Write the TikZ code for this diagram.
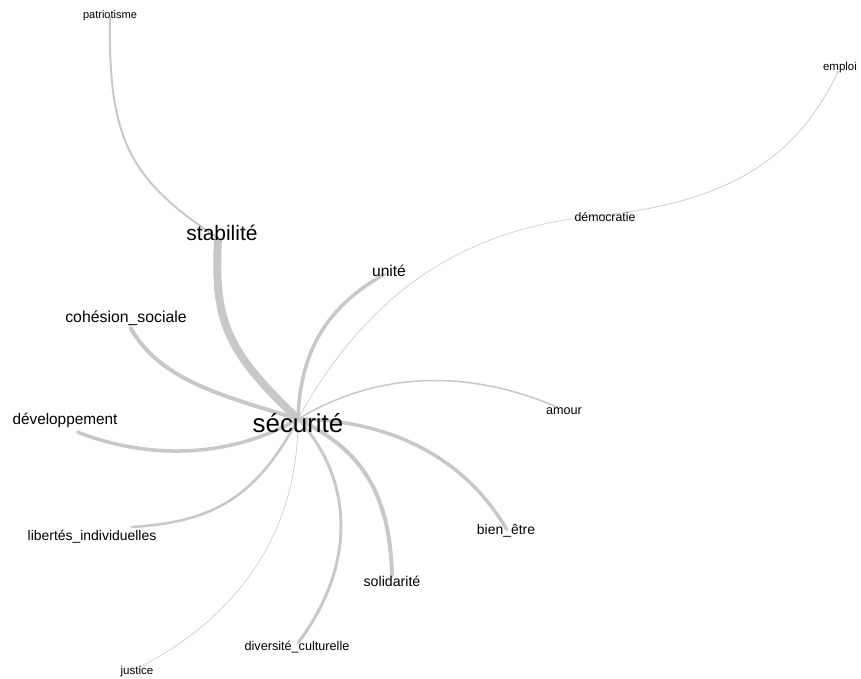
\documentclass[tikz,border=0pt]{standalone}
\usepackage{fontspec}
\setmainfont{Liberation Sans}
\usetikzlibrary{backgrounds}
\definecolor{edgegray}{RGB}{200,200,200}
\definecolor{labelink}{RGB}{0,0,0}

\begin{document}
\begin{tikzpicture}[x=0.03cm, y=-0.03cm,
  vertex/.style={circle, fill=red, inner sep=0pt, minimum size=1pt},
  word/.style={inner sep=0pt, text=labelink},
  link/.style={draw=edgegray}]
\useasboundingbox (0,0) rectangle (861,679);

\foreach \n/\vx/\vy/\lx/\ly/\s/\t in {
  secu/298/419/298/423/22.1/sécurité,
  stab/218/238/222/233/17.9/stabilité,
  patr/110/17/110/16/9.4/patriotisme,
  empl/838/72/840/68/9.8/emploi,
  demo/605/215/605/217/10.5/démocratie,
  unit/385/274/389/271/13.3/unité,
  cohe/130/327/126/318/13.5/cohésion\_sociale,
  amou/557/407/564/411/10.8/amour,
  deve/77/432/65/420/13.1/développement,
  bien/507/530/506/531/11.9/bien\_être,
  libe/132/527/92/537/11.9/libertés\_individuelles,
  soli/392/577/392/581/12.1/solidarité,
  dive/298/643/297/647/10.8/diversité\_culturelle,
  just/140/667/137/671/9.9/justice} {
  \node[vertex] (\n) at (\vx,\vy) {};
  \node[word, font=\fontsize{\s}{\s}\selectfont] (\n lbl) at (\lx,\ly) {\t};
}

\begin{scope}[on background layer]
\draw[link, line width=6.8pt] (secu) .. controls (225,350) and (214,320) .. (stab);
\draw[link, line width=1.7pt] (stab) .. controls (130,180) and (108,140) .. (patr);
\draw[link, line width=3pt] (secu) .. controls (300,360) and (320,310) .. (unit);
\draw[link, line width=0.5pt] (secu) .. controls (380,270) and (490,225) .. (demo);
\draw[link, line width=0.6pt] (demo) .. controls (740,200) and (800,150) .. (empl);
\draw[link, line width=3.4pt] (secu) .. controls (220,395) and (160,380) .. (cohe);
\draw[link, line width=3pt] (secu) .. controls (230,458) and (150,460) .. (deve);
\draw[link, line width=2.2pt] (secu) .. controls (255,500) and (210,522) .. (libe);
\draw[link, line width=0.5pt] (secu) .. controls (298,520) and (250,610) .. (just);
\draw[link, line width=2.5pt] (secu) .. controls (350,475) and (360,560) .. (dive);
\draw[link, line width=3.4pt] (secu) .. controls (350,445) and (390,480) .. (soli);
\draw[link, line width=3pt] (secu) .. controls (380,420) and (460,450) .. (bien);
\draw[link, line width=1.3pt] (secu) .. controls (380,370) and (470,370) .. (amou);
\end{scope}
\end{tikzpicture}
\end{document}
